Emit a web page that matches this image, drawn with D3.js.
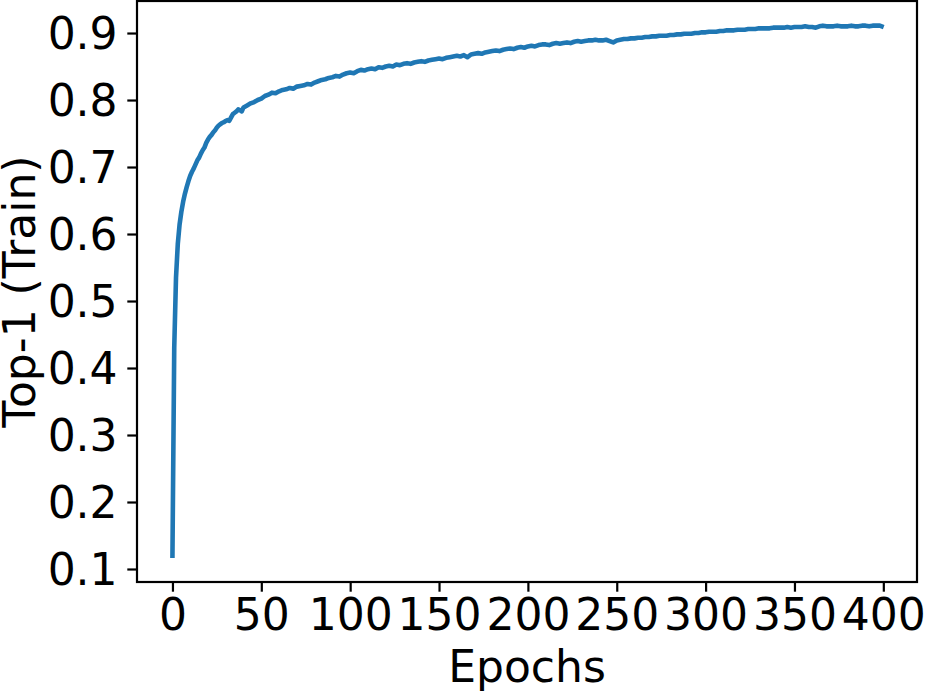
<!DOCTYPE html>
<html>
<head>
<meta charset="utf-8">
<script src="https://cdn.jsdelivr.net/npm/d3@7"></script>
<style>
html,body{margin:0;padding:0;background:#fff;}
svg{display:block;}
text{font-family:"DejaVu Sans",sans-serif;fill:#000;}
</style>
</head>
<body>
<svg id="chart" width="925" height="691"></svg>
<script>
const epochs = [0,1,2,3,4,5,6,7,8,9,10,11,12,13,14,15,16,17,18,19,20,21,22,23,24,25,26,27,28,29,30,31,32,33,34,35,36,37,38,39,40,
42,44,46,48,50,52,54,56,58,60,62,64,66,68,70,72,74,76,78,80,82,84,86,88,90,92,94,96,98,100,
102,104,106,108,110,112,114,116,118,120,122,124,126,128,130,132,134,136,138,140,142,144,146,148,150,
152,154,156,158,160,162,164,166,168,170,172,174,176,178,180,182,184,186,188,190,192,194,196,198,200,
202,204,206,208,210,212,214,216,218,220,222,224,226,228,230,232,234,236,238,240,242,244,246,248,250,
252,254,256,258,260,262,264,266,268,270,272,274,276,278,280,282,284,286,288,290,292,294,296,298,300,
302,304,306,308,310,312,314,316,318,320,322,324,326,328,330,332,334,336,338,340,342,344,346,348,350,
352,354,356,358,360,362,364,366,368,370,372,374,376,378,380,382,384,386,388,390,392,394,396,398,399];
const top1Train = [0.120,0.430,0.535,0.585,0.614,0.633,0.648,0.660,0.670,0.679,0.687,0.693,0.698,0.704,0.710,0.714,0.720,0.725,0.729,0.736,0.741,0.745,0.748,0.752,0.755,0.759,0.762,0.764,0.766,0.767,0.769,0.770,0.769,0.774,0.779,0.781,0.783,0.786,0.785,0.783,0.789,
0.792,0.795,0.797,0.800,0.802,0.806,0.808,0.811,0.810,0.813,0.815,0.816,0.818,0.817,0.820,0.821,0.822,0.824,0.823,0.826,0.828,0.830,0.831,0.833,0.834,0.836,0.835,0.838,0.840,0.841,
0.840,0.843,0.845,0.844,0.846,0.847,0.846,0.849,0.848,0.850,0.851,0.850,0.853,0.852,0.854,0.855,0.854,0.856,0.857,0.858,0.857,0.859,0.860,0.861,0.862,
0.861,0.863,0.864,0.865,0.866,0.865,0.867,0.864,0.868,0.869,0.870,0.869,0.871,0.872,0.873,0.874,0.873,0.875,0.876,0.877,0.876,0.878,0.879,0.878,0.880,
0.881,0.880,0.882,0.883,0.883,0.882,0.884,0.885,0.884,0.885,0.886,0.885,0.887,0.888,0.887,0.888,0.889,0.889,0.890,0.889,0.889,0.890,0.888,0.886,0.889,
0.890,0.891,0.891,0.892,0.892,0.893,0.893,0.894,0.894,0.895,0.895,0.896,0.896,0.896,0.897,0.897,0.898,0.898,0.899,0.899,0.899,0.900,0.900,0.901,0.901,
0.902,0.902,0.902,0.903,0.903,0.904,0.904,0.904,0.905,0.905,0.905,0.906,0.906,0.906,0.907,0.907,0.907,0.907,0.908,0.908,0.908,0.908,0.909,0.908,0.909,
0.909,0.909,0.910,0.909,0.909,0.908,0.910,0.911,0.910,0.910,0.910,0.911,0.910,0.910,0.910,0.911,0.910,0.910,0.911,0.911,0.910,0.911,0.911,0.911,0.910];
const xTicks = [0,50,100,150,200,250,300,350,400];
const yTicks = [0.1,0.2,0.3,0.4,0.5,0.6,0.7,0.8,0.9];
const xLabel = "Epochs";
const yLabel = "Top-1 (Train)";

const svg = d3.select("#chart");
const L = 137, R = 917, T = 1, B = 582;
const x = d3.scaleLinear().domain([-19.95, 418.95]).range([L, R]);
const y = d3.scaleLinear().domain([0.0806, 0.9478]).range([B, T]);
const fs = 44, tl = 9.7, tp = 9.7;

const line = d3.line().x((d,i)=>x(epochs[i])).y(d=>y(d));
svg.append("path").datum(top1Train)
  .attr("d", line).attr("fill","none")
  .attr("stroke","#1f77b4").attr("stroke-width",4.6)
  .attr("stroke-linejoin","round").attr("stroke-linecap","square");

const gx = svg.append("g").attr("transform",`translate(0,${B})`)
  .call(d3.axisBottom(x).tickValues(xTicks).tickSize(tl).tickPadding(tp).tickFormat(d3.format("d")));
const gy = svg.append("g").attr("transform",`translate(${L},0)`)
  .call(d3.axisLeft(y).tickValues(yTicks).tickSize(tl).tickPadding(tp).tickFormat(d3.format(".1f")));
[gx,gy].forEach(g=>{
  g.select(".domain").remove();
  g.selectAll(".tick line").attr("stroke","#000").attr("stroke-width",2.2);
  g.selectAll(".tick text").attr("font-size",fs).attr("font-family","DejaVu Sans").attr("fill","#000");
});
gx.selectAll(".tick text").attr("dy","0.66em");
gy.selectAll(".tick text").attr("dy","0.36em");

svg.append("rect").attr("x",L).attr("y",T).attr("width",R-L).attr("height",B-T)
  .attr("fill","none").attr("stroke","#000").attr("stroke-width",2.2);

svg.append("text").attr("x",(L+R)/2).attr("y",682).attr("text-anchor","middle")
  .attr("font-size",fs).text(xLabel);
svg.append("text").attr("transform",`translate(35,${(T+B)/2}) rotate(-90)`)
  .attr("text-anchor","middle").attr("font-size",fs).text(yLabel);
</script>
</body>
</html>
